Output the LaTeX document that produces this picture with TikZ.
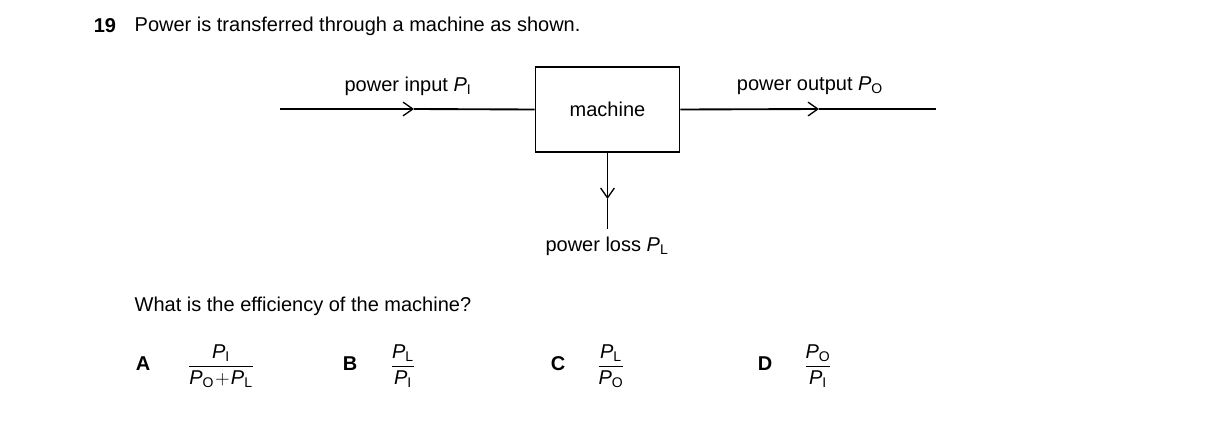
\documentclass[tikz,border=0pt]{standalone}
\usepackage{fontspec}
\usepackage{amsmath}
\setmainfont{Liberation Sans}
\usetikzlibrary{arrows.meta}
\tikzset{%
  tipV/.tip={Straight Barb[angle=70:9pt,line width=1pt]},
  flow/.style={line width=1.4pt},
  lbl/.style={font=\fontsize{15}{18}\selectfont},
}
\newcommand{\pw}[1]{\textit{P}$_{\text{#1}}$}
\newcommand{\pwI}{\textit{P}$_{\mathrm{I}}$}

\begin{document}
\begin{tikzpicture}[x=0.75pt,y=-0.75pt]
\useasboundingbox (0,0) rectangle (1216,421);

\node[lbl,font=\fontsize{15}{18}\selectfont\bfseries] (num) at (105,26) {19};
\node[lbl,anchor=west] (title) at (130,26) {Power is transferred through a machine as shown.};

\node[draw,flow,minimum width=108pt,minimum height=64pt,lbl] (mach) at (607.5,109.5) {machine};

\coordinate (inL) at (280,109);
\coordinate (inM) at (414,109);
\coordinate (outR) at (936,109);
\coordinate (outM) at (819,109);
\coordinate (lossB) at (607.5,229);
\coordinate (lossM) at (607.5,199);

\draw[flow,-tipV] (inL) -- (inM);
\draw[flow] (inM) -- (mach.west);
\draw[flow,-tipV] (mach.east) -- (outM);
\draw[flow] (outM) -- (outR);
\draw[flow,-tipV] (mach.south) -- (lossM);
\draw[flow] (lossM) -- (lossB);

\node[lbl] (pin) at (408,86) {power input \pwI};
\node[lbl] (pout) at (810,86) {power output \pw{O}};
\node[lbl] (ploss) at (607,246) {power loss \pw{L}};

\node[lbl,anchor=west] (quest) at (130,306) {What is the efficiency of the machine?};

\node[lbl,font=\fontsize{15}{18}\selectfont\bfseries] (optA) at (143,364) {A};
\node[lbl] (fracA) at (221,366) {$\dfrac{\textit{P}_{\mathrm{I}}}{\textit{P}_{\text{O}}\!+\!\textit{P}_{\text{L}}}$};
\node[lbl,font=\fontsize{15}{18}\selectfont\bfseries] (optB) at (350,364) {B};
\node[lbl] (fracB) at (403,366) {$\dfrac{\textit{P}_{\text{L}}}{\textit{P}_{\mathrm{I}}}$};
\node[lbl,font=\fontsize{15}{18}\selectfont\bfseries] (optC) at (558,364) {C};
\node[lbl] (fracC) at (611,366) {$\dfrac{\textit{P}_{\text{L}}}{\textit{P}_{\text{O}}}$};
\node[lbl,font=\fontsize{15}{18}\selectfont\bfseries] (optD) at (765,364) {D};
\node[lbl] (fracD) at (818,366) {$\dfrac{\textit{P}_{\text{O}}}{\textit{P}_{\mathrm{I}}}$};
\end{tikzpicture}
\end{document}
